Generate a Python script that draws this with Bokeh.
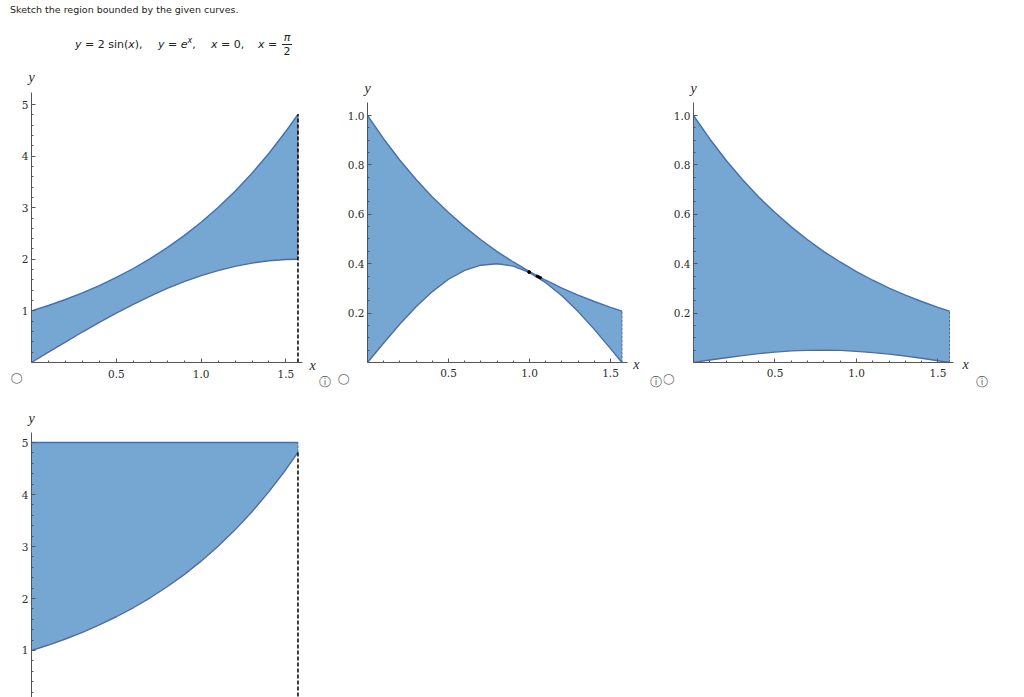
from bokeh.plotting import figure
from bokeh.models import Range1d, FixedTicker, Label, Div, LinearAxis
from bokeh.layouts import column, row
from bokeh.embed import file_html
from bokeh.resources import INLINE

# ---------------- data ----------------
xs = [0.0, 0.1, 0.2, 0.3, 0.4, 0.5, 0.6, 0.7, 0.8, 0.9, 1.0, 1.1, 1.2, 1.3, 1.4, 1.5, 1.5708]
exp_x = [1.000, 1.105, 1.221, 1.350, 1.492, 1.649, 1.822, 2.014, 2.226, 2.460, 2.718,
         3.004, 3.320, 3.669, 4.055, 4.482, 4.810]
two_sin_x = [0.000, 0.200, 0.397, 0.591, 0.779, 0.959, 1.129, 1.288, 1.435, 1.567, 1.683,
             1.782, 1.864, 1.927, 1.971, 1.995, 2.000]
exp_neg_x = [1.000, 0.905, 0.819, 0.741, 0.670, 0.607, 0.549, 0.497, 0.449, 0.407, 0.368,
             0.333, 0.301, 0.273, 0.247, 0.223, 0.208]
hump_b = [0.000, 0.079, 0.156, 0.226, 0.287, 0.337, 0.373, 0.394, 0.400, 0.390, 0.364,
          0.323, 0.270, 0.206, 0.134, 0.056, 0.000]
hump_c = [0.000, 0.010, 0.019, 0.028, 0.036, 0.042, 0.047, 0.049, 0.050, 0.049, 0.045,
          0.040, 0.034, 0.026, 0.017, 0.007, 0.000]
top_d = [5.0] * len(xs)
x_right = 1.5708
mark_x = [1.04, 1.075]
mark_y = [0.352, 0.341]
dot_x = [0.998]
dot_y = [0.366]

x_ticks = [0.5, 1.0, 1.5]
x_tick_labels = ["0.5", "1.0", "1.5"]
x_minor = [0.1, 0.2, 0.3, 0.4, 0.6, 0.7, 0.8, 0.9, 1.1, 1.2, 1.3, 1.4]
y_ticks_big = [1, 2, 3, 4, 5]
y_tick_labels_big = ["1", "2", "3", "4", "5"]
y_minor_big = [0.2, 0.4, 0.6, 0.8, 1.2, 1.4, 1.6, 1.8, 2.2, 2.4, 2.6, 2.8, 3.2, 3.4, 3.6, 3.8,
               4.2, 4.4, 4.6, 4.8]
y_ticks_small = [0.2, 0.4, 0.6, 0.8, 1.0]
y_tick_labels_small = ["0.2", "0.4", "0.6", "0.8", "1.0"]
y_minor_small = [0.05, 0.1, 0.15, 0.25, 0.3, 0.35, 0.45, 0.5, 0.55, 0.65, 0.7, 0.75,
                 0.85, 0.9, 0.95]

FILL = "#76a7d2"
EDGE = "#4a6ea8"
AXIS = "#555555"
TXT = "#2a2a2a"


def make_fig(width, height, xr, yr):
    p = figure(width=width, height=height, x_range=Range1d(*xr), y_range=Range1d(*yr),
               min_border=0, toolbar_location=None, tools="", output_backend="svg",
               x_axis_type=None, y_axis_type=None)
    p.grid.visible = False
    p.outline_line_color = None
    p.background_fill_color = "white"
    p.border_fill_color = "white"
    return p


def style_axis(ax):
    ax.axis_line_color = AXIS
    ax.axis_line_width = 1
    ax.major_tick_in = 4
    ax.major_tick_out = 0
    ax.minor_tick_in = 2
    ax.minor_tick_out = 0
    ax.major_tick_line_color = AXIS
    ax.minor_tick_line_color = AXIS
    ax.major_label_text_font = "DejaVu Serif"
    ax.major_label_text_font_size = "10.5px"
    ax.major_label_text_color = TXT


def add_axes(p, xb, yb, xt, xl, xm, yt, yl, ym, show_x=True):
    if show_x:
        xa = LinearAxis(fixed_location=0, bounds=xb,
                        ticker=FixedTicker(ticks=xt, minor_ticks=xm),
                        major_label_overrides=dict(zip(xt, xl)))
        style_axis(xa)
        xa.major_label_standoff = 7
        p.add_layout(xa, "below")
    ya = LinearAxis(fixed_location=0, bounds=yb,
                    ticker=FixedTicker(ticks=yt, minor_ticks=ym),
                    major_label_overrides=dict(zip(yt, yl)))
    style_axis(ya)
    ya.major_label_standoff = 3
    p.add_layout(ya, "left")


def add_text(p, x, y, text, font="Liberation Serif", style="italic", size="14px",
             color=TXT):
    p.add_layout(Label(x=x, y=y, text=text, text_font=font, text_font_style=style,
                       text_font_size=size, text_color=color, text_align="center",
                       text_baseline="middle"))


def region(p, lower, upper):
    p.varea(x=xs, y1=lower, y2=upper, fill_color=FILL, fill_alpha=1.0)
    p.line(xs, upper, line_color=EDGE, line_width=1.4)
    p.line(xs, lower, line_color=EDGE, line_width=1.4)
    p.line([x_right, x_right], [lower[-1], upper[-1]], line_color=EDGE, line_width=1,
           line_dash="3 1")


def icons(p, rx, ry, ix, iy):
    add_text(p, rx, ry, "○", font="DejaVu Sans", style="normal", size="14px",
             color="#777777")
    add_text(p, ix, iy, "ⓘ", font="DejaVu Sans", style="normal", size="12px",
             color="#555555")


# ---------------- panel 1 (page x 0..336, origin at 31) ----------------
p1 = make_fig(336, 330, (-0.1828, 1.798), (-0.581, 5.814))
region(p1, two_sin_x, exp_x)
p1.line([x_right, x_right], [0, exp_x[-1]], line_color="black", line_width=1.5,
        line_dash="4 2")
add_axes(p1, (0, 1.598), (0, 5.23), x_ticks, x_tick_labels, x_minor,
         y_ticks_big, y_tick_labels_big, y_minor_big)
add_text(p1, 0, 5.523, "y")
add_text(p1, 1.657, -0.06, "x")
icons(p1, -0.088, -0.29, 1.733, -0.37)

# ---------------- panel 2 (page x 336..663, origin at 367) ----------------
p2 = make_fig(327, 330, (-0.1914, 1.827), (-0.1215, 1.2146))
region(p2, hump_b, exp_neg_x)
p2.line(mark_x, mark_y, line_color="black", line_width=3)
p2.scatter(dot_x, dot_y, size=3, color="black")
add_axes(p2, (0, 1.605), (0, 1.053), x_ticks, x_tick_labels, x_minor,
         y_ticks_small, y_tick_labels_small, y_minor_small)
add_text(p2, 0, 1.109, "y")
add_text(p2, 1.66, -0.008, "x")
icons(p2, -0.148, -0.061, 1.778, -0.077)

# ---------------- panel 3 (page x 663..1010, origin at 693) ----------------
p3 = make_fig(347, 330, (-0.184, 1.945), (-0.1215, 1.2146))
region(p3, hump_c, exp_neg_x)
add_axes(p3, (0, 1.595), (0, 1.053), x_ticks, x_tick_labels, x_minor,
         y_ticks_small, y_tick_labels_small, y_minor_small)
add_text(p3, 0, 1.109, "y")
add_text(p3, 1.669, -0.008, "x")
icons(p3, -0.153, -0.061, 1.773, -0.077)

# ---------------- panel 4 ----------------
p4 = make_fig(336, 305, (-0.1828, 1.798), (0.096, 5.962))
region(p4, exp_x, top_d)
p4.line([x_right, x_right], [0, exp_x[-1]], line_color="black", line_width=1.5,
        line_dash="4 2")
add_axes(p4, (0, 1.598), (0, 5.19), x_ticks, x_tick_labels, x_minor,
         y_ticks_big, y_tick_labels_big, y_minor_big, show_x=False)
add_text(p4, 0, 5.46, "y")

# ---------------- header ----------------
header_html = """
<div style="position:relative;width:1000px;height:62px;font-family:'DejaVu Sans';
font-size:9.5px;line-height:12px;color:#222;">
<span style="position:absolute;left:10px;top:4px;white-space:nowrap;">Sketch the region bounded by the given curves.</span>
<span style="position:absolute;left:75px;top:39px;white-space:nowrap;font-size:11px;"><i>y</i> = 2 sin(<i>x</i>),</span>
<span style="position:absolute;left:158px;top:39px;white-space:nowrap;font-size:11px;"><i>y</i> = <i>e</i><sup style="font-size:8px;line-height:0;"><i>x</i></sup>,</span>
<span style="position:absolute;left:211px;top:39px;white-space:nowrap;font-size:11px;"><i>x</i> = 0,</span>
<span style="position:absolute;left:258px;top:39px;white-space:nowrap;font-size:11px;"><i>x</i> =</span>
<span style="position:absolute;left:282px;top:31px;text-align:center;width:10px;font-size:11px;line-height:13px;">
<span style="display:block;border-bottom:1px solid #222;"><i>&pi;</i></span>
<span style="display:block;">2</span></span>
</div>
"""
header = Div(text=header_html, width=1000, height=62, margin=0,
             styles={"overflow": "visible"})

layout = column(header, row(p1, p2, p3, spacing=0), p4, spacing=0)

open("out.html", "w").write(file_html(layout, INLINE))
